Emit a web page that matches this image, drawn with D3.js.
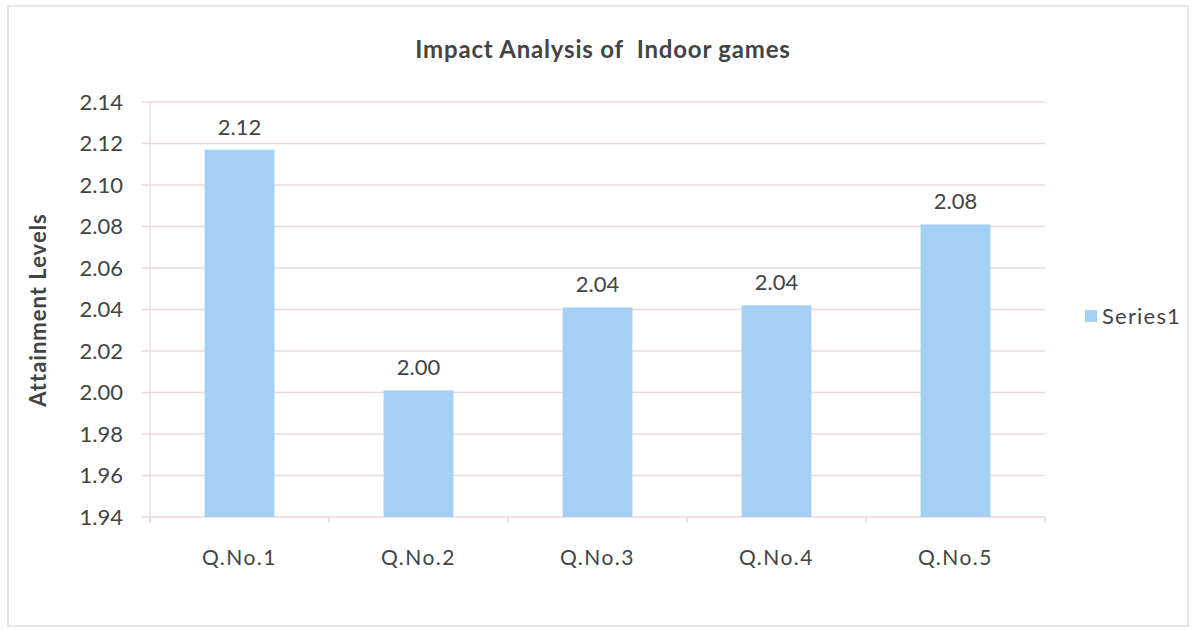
<!DOCTYPE html>
<meta charset="utf-8">
<style>
body { margin: 0; background: #fff; }
text { font-family: Lato, "Open Sans", sans-serif; fill: #444; white-space: pre; }
.grid line { stroke: #ecd6dc; stroke-width: 1.3px; }
.bar { fill: #a3d0f3; }
</style>
<body>
<script src="https://cdn.jsdelivr.net/npm/d3@7"></script>
<script>
var categories = ["Q.No.1", "Q.No.2", "Q.No.3", "Q.No.4", "Q.No.5"]
var values = [2.117, 2.001, 2.041, 2.042, 2.081]
var labels = ["2.12", "2.00", "2.04", "2.04", "2.08"]
var yTicks = [1.94, 1.96, 1.98, 2.00, 2.02, 2.04, 2.06, 2.08, 2.10, 2.12, 2.14]

var width = 1195, height = 631
var plotLeft = 150, plotRight = 1045, plotTop = 102, plotBottom = 517

var svg = d3.select("body").append("svg")
    .attr("width", width)
    .attr("height", height)

// outer frame
svg.append("rect")
    .attr("x", 8).attr("y", 6)
    .attr("width", 1180).attr("height", 620)
    .attr("fill", "none")
    .attr("stroke", "#e2dde0")
    .attr("stroke-width", 1.5)

var x = d3.scaleBand().domain(categories).range([plotLeft, plotRight]).paddingInner(0.61).paddingOuter(0.305)
var xc = d3.scaleBand().domain(categories).range([plotLeft, plotRight])
var y = d3.scaleLinear().domain([1.94, 2.14]).range([plotBottom, plotTop])

svg.append("g").attr("class", "grid")
  .selectAll("line")
  .data(yTicks)
  .enter().append("line")
    .attr("x1", plotLeft - 8)
    .attr("x2", plotRight)
    .attr("y1", d => y(d))
    .attr("y2", d => y(d))

// axis line and category ticks
svg.append("line")
    .attr("x1", plotLeft).attr("x2", plotLeft)
    .attr("y1", plotTop).attr("y2", plotBottom + 6)
    .attr("stroke", "#e6dde0").attr("stroke-width", 1.3)
svg.append("g").selectAll("line")
  .data(categories.concat(["end"]))
  .enter().append("line")
    .attr("x1", (d, i) => plotLeft + i * xc.bandwidth())
    .attr("x2", (d, i) => plotLeft + i * xc.bandwidth())
    .attr("y1", plotBottom).attr("y2", plotBottom + 6)
    .attr("stroke", "#ddd5d8").attr("stroke-width", 1.3)

svg.append("g").selectAll("text")
  .data(yTicks)
  .enter().append("text")
    .attr("x", 123)
    .attr("y", d => y(d))
    .attr("dy", "0.35em")
    .attr("text-anchor", "end")
    .style("font-size", "22px")
    .text(d => d.toFixed(2))

svg.append("g").selectAll("rect")
  .data(values)
  .enter().append("rect")
    .attr("class", "bar")
    .attr("x", (d, i) => x(categories[i]))
    .attr("width", x.bandwidth())
    .attr("y", d => y(d))
    .attr("height", d => plotBottom - y(d))

svg.append("g").selectAll("text")
  .data(values)
  .enter().append("text")
    .attr("x", (d, i) => xc(categories[i]) + xc.bandwidth() / 2)
    .attr("y", d => y(d) - 15)
    .attr("text-anchor", "middle")
    .style("font-size", "22px")
    .text((d, i) => labels[i])

svg.append("g").selectAll("text")
  .data(categories)
  .enter().append("text")
    .attr("x", d => xc(d) + xc.bandwidth() / 2)
    .attr("y", 565)
    .attr("text-anchor", "middle")
    .style("font-size", "21px")
    .style("letter-spacing", "1.5px")
    .text(d => d)

svg.append("text")
    .attr("x", 603).attr("y", 58)
    .attr("text-anchor", "middle")
    .style("font-size", "24px")
    .style("font-weight", "bold")
    .style("letter-spacing", "0.8px")
    .text("Impact Analysis of  Indoor games")

svg.append("text")
    .attr("transform", "translate(46,310) rotate(-90)")
    .attr("text-anchor", "middle")
    .style("font-size", "22px")
    .style("font-weight", "bold")
    .style("letter-spacing", "1px")
    .text("Attainment Levels")

svg.append("rect")
    .attr("x", 1085).attr("y", 310)
    .attr("width", 12).attr("height", 12)
    .attr("class", "bar")
svg.append("text")
    .attr("x", 1102).attr("y", 316)
    .attr("dy", "0.35em")
    .style("font-size", "22px")
    .style("letter-spacing", "1.2px")
    .text("Series1")
</script>
